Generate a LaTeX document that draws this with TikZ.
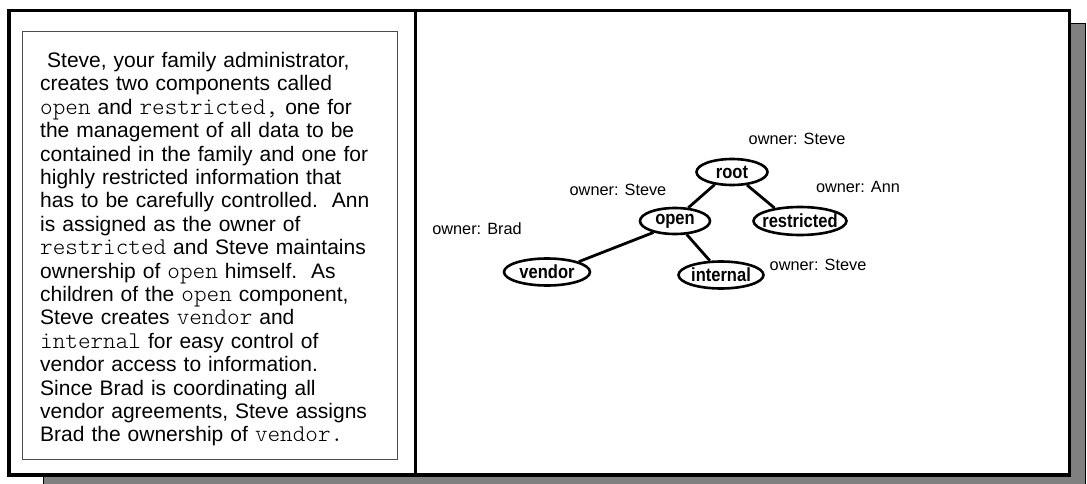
\documentclass[tikz,border=0pt]{standalone}
\usepackage{fontspec}
\setmainfont{Liberation Sans}
\setmonofont{Latin Modern Mono Light}[Scale=1.143]
\usetikzlibrary{shapes.geometric}
\tikzstyle{comp}      = [ellipse, draw=black, line width=2.6pt, inner sep=0pt]
\tikzstyle{complabel} = [inner sep=0pt, font=\fontsize{19}{20}\selectfont\bfseries]
\tikzstyle{owner}     = [inner sep=0pt, font=\fontsize{16.3}{18}\selectfont]
\tikzstyle{edge}      = [line width=2.8pt]

\begin{document}
\begin{tikzpicture}[x=1pt,y=-1pt]
  \useasboundingbox (0,0) rectangle (1087,484);
  % shadow and frame
  \draw[fill=black!50, line width=0.8pt] (43,23) rectangle (1085.5,492);
  \draw[fill=white, line width=3.5pt] (9,10.5) rectangle (1069.5,475);
  \draw[line width=3.5pt] (415.5,10.5) -- (415.5,475);
  \draw[black!70, line width=1pt] (22,32) rectangle (397,459);
  % story
  \node[anchor=base west, inner sep=0pt, text width=355pt, align=left,
        font=\fontsize{21}{23.4}\selectfont] (story) at (40,67.5) {%
    \ Steve, your family administrator,\\
    creates two components called\\
    \texttt{open }and \texttt{restricted,} one for\\
    the management of all data to be\\
    contained in the family and one for\\
    highly restricted information that\\
    has to be carefully controlled.\ \ Ann\\
    is assigned as the owner of\\
    \texttt{restricted} and Steve maintains\\
    ownership of \texttt{open} himself.\ \ As\\
    children of the \texttt{open} component,\\
    Steve creates \texttt{vendor} and\\
    \texttt{internal} for easy control of\\
    vendor access to information.\\
    Since Brad is coordinating all\\
    vendor agreements, Steve assigns\\
    Brad the ownership of \texttt{vendor.}};
  % components
  \node[comp, minimum width=71pt, minimum height=26pt, label={[complabel]center:\scalebox{0.87}[1]{root}}] (root) at (732,172) {};
  \node[comp, minimum width=70pt, minimum height=26pt, label={[complabel]center:\scalebox{0.87}[1]{open}}] (open) at (675,221) {};
  \node[comp, minimum width=93pt, minimum height=28pt, label={[complabel]center:\scalebox{0.87}[1]{restricted}}] (restricted) at (800,221) {};
  \node[comp, minimum width=86pt, minimum height=27pt, label={[complabel]center:\scalebox{0.87}[1]{vendor}}] (vendor) at (547,272) {};
  \node[comp, minimum width=85pt, minimum height=27pt, label={[complabel]center:\scalebox{0.87}[1]{internal}}] (internal) at (721,275) {};
  \draw[edge] (root.216) -- (open.45);
  \draw[edge] (root.319) -- (restricted.153);
  \draw[edge] (open.208) -- (vendor.18);
  \draw[edge] (open.311) -- (internal.128);
  % owners
  \node[owner] (rootowner) at (797,139) {owner: Steve};
  \node[owner] (openowner) at (618,190) {owner: Steve};
  \node[owner] (restrictedowner) at (858,187) {owner: Ann};
  \node[owner] (vendorowner) at (477,229) {owner: Brad};
  \node[owner] (internalowner) at (818,265) {owner: Steve};
\end{tikzpicture}
\end{document}
